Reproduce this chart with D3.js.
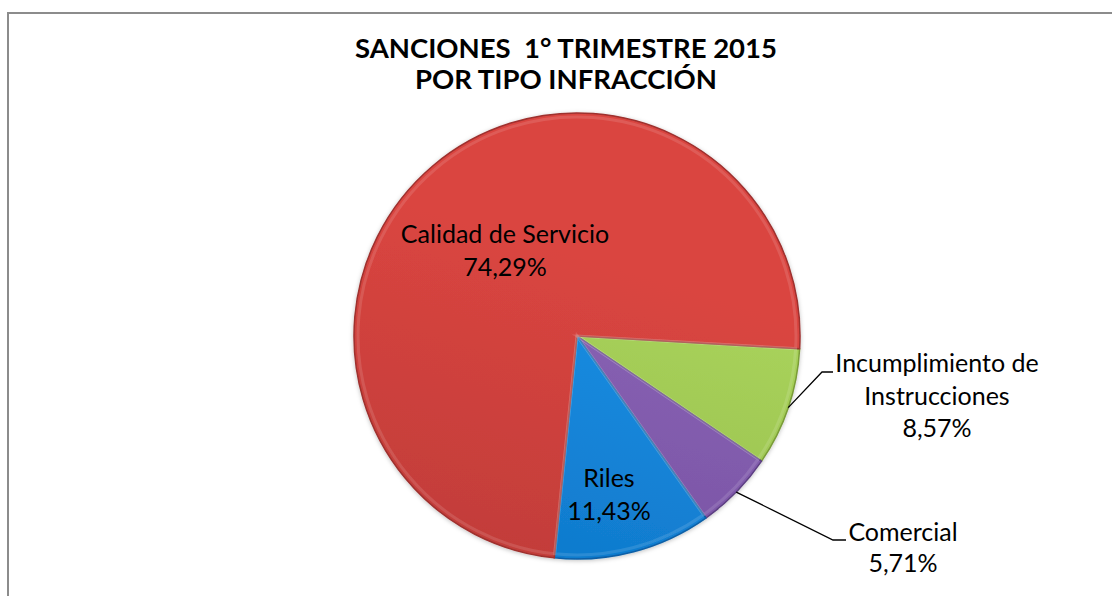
<!DOCTYPE html>
<html>
<head>
<meta charset="utf-8">
<script src="https://cdn.jsdelivr.net/npm/d3@7"></script>
<style>
  html, body { margin: 0; padding: 0; background: #fff; }
  svg { display: block; }
  text { font-family: Lato, "Open Sans", sans-serif; fill: #000; white-space: pre; }
</style>
</head>
<body>
<svg id="chart" width="1112" height="596"></svg>
<script>
// ---- data ----
const titleLines = ["SANCIONES  1° TRIMESTRE 2015", "POR TIPO INFRACCIÓN"];
const categories = ["Incumplimiento de Instrucciones", "Comercial", "Riles", "Calidad de Servicio"];
const labelLines = [["Incumplimiento de", "Instrucciones"], ["Comercial"], ["Riles"], ["Calidad de Servicio"]];
const values = [8.57, 5.71, 11.43, 74.29];
const valueLabels = ["8,57%", "5,71%", "11,43%", "74,29%"];

// ---- styling / layout ----
const W = 1112, H = 596;
const cx = 577, cy = 336, R = 223;
const startDeg = 93.3;
const colorsTop = ["#a9d35c", "#8a63b6", "#1a8fe4", "#da4540"];
const colorsBot = ["#8db243", "#6e4a98", "#0a6fc0", "#b63936"];
const strokeCol = ["#7a9c38", "#5c3f82", "#0a5fa6", "#9e302e"];

const svg = d3.select("#chart");

// frame (cut off at right and bottom)
svg.append("path")
  .attr("d", `M8,${H + 5} L8,13 L${W + 5},13`)
  .attr("fill", "none").attr("stroke", "#8c8c8c").attr("stroke-width", 2);

// title
const title = svg.append("text").attr("text-anchor", "middle")
  .attr("xml:space", "preserve")
  .style("font-weight", "bold").style("font-size", "27.5px");
title.selectAll("tspan").data(titleLines).join("tspan")
  .attr("x", 566).attr("y", (d, i) => 58 + i * 31).text(d => d);

const defs = svg.append("defs");
categories.forEach((c, i) => {
  const g = defs.append("linearGradient").attr("id", "grad" + i)
    .attr("gradientUnits", "userSpaceOnUse")
    .attr("x1", cx + R * 0.3).attr("y1", cy - R).attr("x2", cx - R * 0.3).attr("y2", cy + R);
  g.append("stop").attr("offset", "0%").attr("stop-color", colorsTop[i]);
  g.append("stop").attr("offset", "100%").attr("stop-color", colorsBot[i]);
});
const f = defs.append("filter").attr("id", "shadow").attr("x", "-10%").attr("y", "-10%").attr("width", "120%").attr("height", "120%");
f.append("feDropShadow").attr("dx", 0).attr("dy", 1).attr("stdDeviation", 2).attr("flood-color", "#000").attr("flood-opacity", 0.25);

const pie = d3.pie().sort(null).value(d => d)
  .startAngle(startDeg * Math.PI / 180)
  .endAngle(startDeg * Math.PI / 180 + 2 * Math.PI);
const arcs = pie(values);
const arc = d3.arc().innerRadius(0).outerRadius(R);
const innerArc = d3.arc().innerRadius(0).outerRadius(R - 4);

const gPie = svg.append("g").attr("transform", `translate(${cx},${cy})`);
gPie.append("g").attr("filter", "url(#shadow)")
  .selectAll("path").data(arcs).join("path")
  .attr("d", arc)
  .attr("fill", (d, i) => `url(#grad${i})`)
  .attr("stroke", (d, i) => strokeCol[i])
  .attr("stroke-width", 1.5)
  .attr("stroke-linejoin", "round");
// subtle bevel highlight
gPie.append("g").selectAll("path").data(arcs).join("path")
  .attr("d", innerArc)
  .attr("fill", "none")
  .attr("stroke", "#ffffff").attr("stroke-opacity", 0.12).attr("stroke-width", 3);

// labels: [x center, first baseline]
const labelPos = [[937, 372], [903, 541], [609, 487], [505, 243]];
const lineH = 32.5;
const labelSize = "25px";
arcs.forEach((d, i) => {
  const lines = labelLines[i].concat([valueLabels[i]]);
  const t = svg.append("text").attr("text-anchor", "middle").style("font-size", labelSize);
  t.selectAll("tspan").data(lines).join("tspan")
    .attr("x", labelPos[i][0]).attr("y", (l, k) => labelPos[i][1] + k * (i === 1 ? 31 : lineH))
    .text(l => l);
});

// leader lines for outside labels
const outerPt = d3.arc().innerRadius(R).outerRadius(R);
const leaders = [
  { i: 0, elbow: [822, 372], end: [833, 372] },
  { i: 1, elbow: [833, 540], end: [846, 540] }
];
leaders.forEach(l => {
  const c = outerPt.centroid(arcs[l.i]);
  const p0 = [cx + c[0], cy + c[1]];
  svg.append("path")
    .attr("d", d3.line()([p0, l.elbow, l.end]))
    .attr("fill", "none").attr("stroke", "#000").attr("stroke-width", 1.3);
});
</script>
</body>
</html>
